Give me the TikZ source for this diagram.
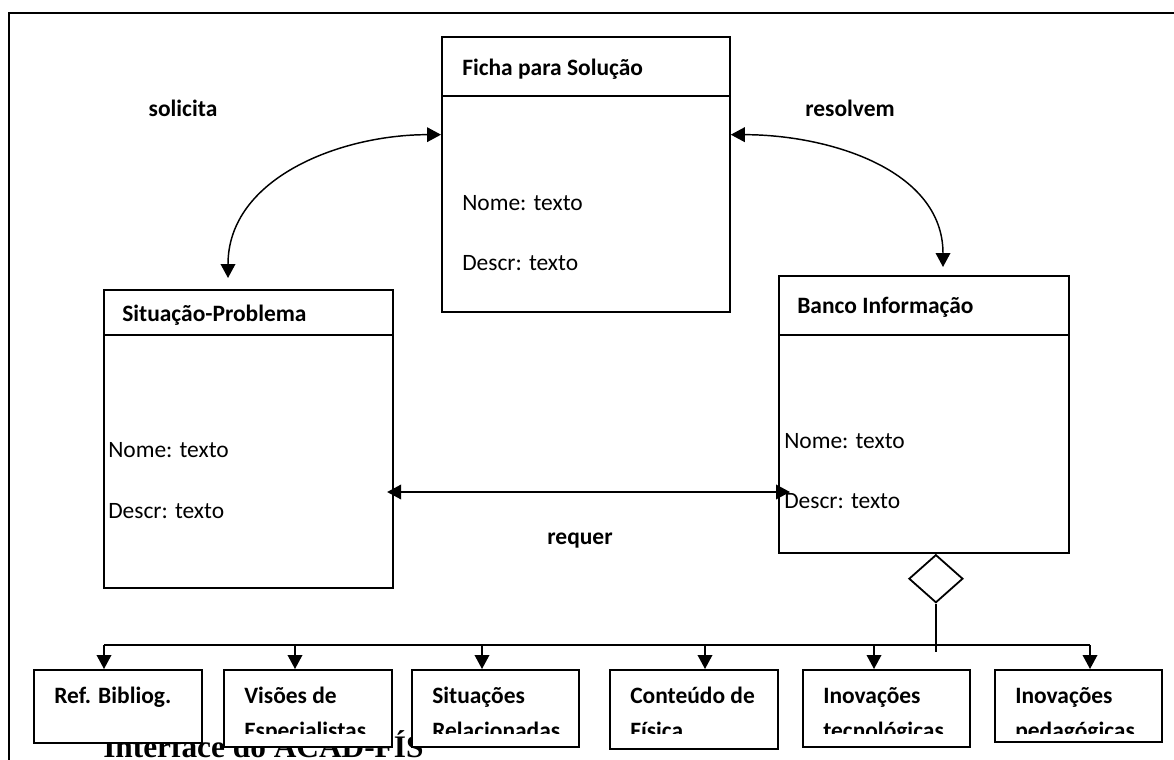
\documentclass[tikz,border=0pt]{standalone}
\usepackage{fontspec}
\setmainfont{Carlito}
\newfontfamily\serifa{Liberation Serif}
\usetikzlibrary{positioning,arrows.meta,shapes.geometric}

\tikzset{
    caixa/.style={draw, line width=1.35pt, fill=white, rectangle, inner sep=0pt},
    seta/.style={line width=1.1pt, -{Triangle[length=10.5pt,width=11pt]}},
    seta2/.style={line width=1.1pt, {Triangle[length=10.5pt,width=11pt]}-{Triangle[length=10.5pt,width=11pt]}},
    titulo/.style={font=\fontsize{17.6}{21}\selectfont\bfseries, anchor=base west, inner sep=0pt},
    atributo/.style={font=\fontsize{17.6}{21}\selectfont, anchor=base west, inner sep=0pt},
    relacao/.style={font=\fontsize{17.6}{21}\selectfont\bfseries, inner sep=0pt},
}

\begin{document}
\begin{tikzpicture}[x=0.75pt, y=-0.75pt]
    \useasboundingbox (0,0) rectangle (1174,760);

    % moldura
    \draw[line width=1.8pt] (9,760) -- (9,13) -- (1174,13);

    % título (fica por baixo das caixas)
    \node[anchor=base west, inner sep=0pt, font=\serifa\bfseries\fontsize{23.5}{26}\selectfont] (interface) at (103,757) {Interface do ACAD-FÍS};

    % classes
    \node[caixa, anchor=north west, minimum width=216pt, minimum height=206.25pt] (fs) at (441,36) {};
    \draw[line width=1.35pt] ([yshift=-45pt]fs.north west) -- ([yshift=-45pt]fs.north east);
    \node[titulo] (fs-t) at ([shift={(21,39)}]fs.north west) {Ficha para Solução};
    \node[atributo] (fs-n) at ([shift={(21,174)}]fs.north west) {Nome: texto};
    \node[atributo] (fs-d) at ([shift={(21,234)}]fs.north west) {Descr: texto};

    \node[caixa, anchor=north west, minimum width=216.75pt, minimum height=223.5pt] (sp) at (103,289) {};
    \draw[line width=1.35pt] ([yshift=-34.5pt]sp.north west) -- ([yshift=-34.5pt]sp.north east);
    \node[titulo] (sp-t) at ([shift={(19,32)}]sp.north west) {Situação-Problema};
    \node[atributo] (sp-n) at ([shift={(5,168)}]sp.north west) {Nome: texto};
    \node[atributo] (sp-d) at ([shift={(5,229)}]sp.north west) {Descr: texto};

    \node[caixa, anchor=north west, minimum width=217.5pt, minimum height=207.75pt] (bi) at (778,275) {};
    \draw[line width=1.35pt] ([yshift=-45pt]bi.north west) -- ([yshift=-45pt]bi.north east);
    \node[titulo] (bi-t) at ([shift={(19,38)}]bi.north west) {Banco Informação};
    \node[atributo] (bi-n) at ([shift={(6,173)}]bi.north west) {Nome: texto};
    \node[atributo] (bi-d) at ([shift={(6,233)}]bi.north west) {Descr: texto};

    % relações
    \node[relacao] (solicita) at (183,108) {solicita};
    \node[relacao] (resolvem) at (850,108) {resolvem};
    \node[relacao] (requer) at (580,541) {requer};
    \coordinate (req) at (580,492);

    \draw[seta2] ([yshift=-74pt]fs.north west) to[out=180, in=90] ([shift={(125,-11)}]sp.north west);
    \draw[seta2] ([yshift=-74pt]fs.north east) to[out=0, in=90] ([shift={(165,-8)}]bi.north west);
    \draw[seta2] ([xshift=-5pt]sp.east |- req) -- ([xshift=9pt]bi.west |- req);

    % agregação
    \node[draw, diamond, line width=1.35pt, fill=white, minimum width=40.5pt, minimum height=36pt, inner sep=0pt, anchor=north] (agr) at ([xshift=9pt]bi.south) {};
    \draw[line width=1.1pt] (agr.south) -- ++(0,48);

    % partes do banco
    \foreach \n/\xa/\w/\h/\ax/\la/\lb in {
        b1/33/168/73/104/Ref. Bibliog./{},
        b2/223/168/77/295/Visões de/Especialistas,
        b3/411/167/77/482/Situações/Relacionadas,
        b4/609/168/79/705/Conteúdo de/Física,
        b5/802/167/77/874/Inovações/tecnológicas,
        b6/994/167/72/1090/Inovações/pedagógicas}{
        \pgfmathsetmacro\lw{\w*0.75}
        \pgfmathsetmacro\lh{\h*0.75}
        \node[caixa, anchor=north west, minimum width=\lw pt, minimum height=\lh pt] (\n) at (\xa,669) {};
        \begin{scope}
            \clip (\xa,669) rectangle ({\xa+\w},733);
            \node[titulo] at ([shift={(21,34)}]\n.north west) {\la};
            \node[titulo] at ([shift={(21,69)}]\n.north west) {\lb};
        \end{scope}
        \coordinate (r\n) at (\ax,645);
        \draw[seta] (r\n) -- (r\n |- \n.north);
    }
    \draw[line width=1.1pt] (rb1) -- (rb6);
\end{tikzpicture}
\end{document}
